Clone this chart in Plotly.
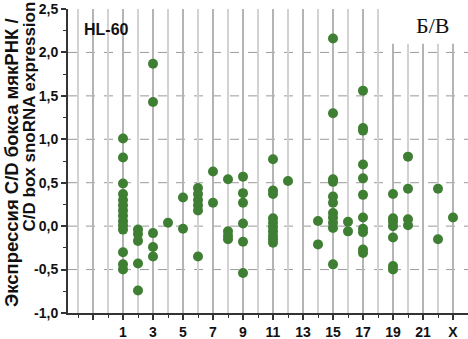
import plotly.graph_objects as go

# ---- data ----
chromosome_labels = [str(i) for i in range(1, 23)] + ["X"]
chr1 = [1.01, 0.79, 0.49, 0.37, 0.30, 0.24, 0.18, 0.12, 0.06, 0.01, -0.04, -0.30, -0.44, -0.50]
chr2 = [-0.04, -0.09, -0.17, -0.43, -0.74]
chr3 = [1.87, 1.43, -0.08, -0.24, -0.35]
chr4 = [0.04]
chr5 = [0.33, -0.03]
chr6 = [0.44, 0.37, 0.30, 0.24, 0.18, -0.35]
chr7 = [0.63, 0.27]
chr8 = [0.54, -0.06, -0.11, -0.15]
chr9 = [0.57, 0.38, 0.27, 0.03, -0.18, -0.54]
chr10 = []
chr11 = [0.77, 0.41, 0.37, 0.09, 0.04, -0.01, -0.06, -0.11, -0.15, -0.19]
chr12 = [0.52]
chr13 = []
chr14 = [0.06, -0.21]
chr15 = [2.16, 1.30, 0.54, 0.51, 0.34, 0.27, 0.15, 0.10, 0.04, -0.02, -0.44]
chr16 = [0.05, -0.06]
chr17 = [1.56, 1.13, 1.10, 0.71, 0.55, 0.36, 0.10, -0.03, -0.07, -0.27, -0.31]
chr18 = []
chr19 = [0.37, 0.09, 0.05, 0.00, -0.13, -0.46, -0.50]
chr20 = [0.80, 0.43, 0.08, 0.01]
chr21 = []
chr22 = [0.43, -0.15]
chrX = [0.10]

series = [chr1, chr2, chr3, chr4, chr5, chr6, chr7, chr8, chr9, chr10, chr11, chr12,
          chr13, chr14, chr15, chr16, chr17, chr18, chr19, chr20, chr21, chr22, chrX]

y_tick_values = [-1.0, -0.5, 0.0, 0.5, 1.0, 1.5, 2.0, 2.5]
y_tick_labels = ["-1,0", "-0,5", "0,0", "0,5", "1,0", "1,5", "2,0", "2,5"]
x_tick_values = [-1] + list(range(1, 24, 2))
x_tick_labels = [""] + [chromosome_labels[i - 1] for i in range(1, 24, 2)]

xs, ys = [], []
for pos, vals in enumerate(series, start=1):
    for v in vals:
        xs.append(pos)
        ys.append(v)

fig = go.Figure()
fig.add_trace(go.Scatter(
    x=xs, y=ys, mode="markers",
    marker=dict(size=10, color="#3f7f33", line=dict(width=0)),
    showlegend=False, hoverinfo="skip", cliponaxis=False))

shapes = []
# vertical grid lines
for gx in range(-2, 24):
    top = 2.1 if gx >= 19 else 2.5
    col = "#b4b4b4" if gx % 2 else "#d2d2d2"
    shapes.append(dict(type="line", xref="x", yref="y", x0=gx, x1=gx, y0=-1.0, y1=top,
                       line=dict(color=col, width=2), layer="below"))
# horizontal dashed grid lines
for gy in [-0.5, 0.0, 0.5, 1.0, 1.5, 2.0]:
    shapes.append(dict(type="line", xref="paper", yref="y", x0=0, x1=1, y0=gy, y1=gy,
                       line=dict(color="#9a9a9a", width=1, dash="dash"), layer="below"))

tick_font = dict(family="Liberation Sans, Arial, sans-serif", size=14, color="#111", weight="bold")
sans = "Liberation Sans, Arial, sans-serif"

fig.update_layout(
    width=468, height=339,
    margin=dict(l=68, r=0, t=9, b=26, autoexpand=False),
    plot_bgcolor="white", paper_bgcolor="white",
    shapes=shapes,
    xaxis=dict(range=[-2.667, 24], showgrid=False, zeroline=False,
               showline=True, linecolor="#333", linewidth=2,
               tickmode="array", tickvals=x_tick_values, ticktext=x_tick_labels,
               ticks="outside", ticklen=5, tickwidth=1.5, tickcolor="#333",
               minor=dict(tickvals=list(range(-2, 24, 2)), ticks="outside", ticklen=3,
                          tickwidth=1, tickcolor="#333", showgrid=False),
               tickfont=tick_font, automargin=False),
    yaxis=dict(range=[-1.0, 2.5], showgrid=False, zeroline=False,
               showline=True, linecolor="#333", linewidth=2,
               tickmode="array", tickvals=y_tick_values, ticktext=y_tick_labels,
               ticks="outside", ticklen=5, tickwidth=1.5, tickcolor="#333",
               minor=dict(dtick=0.25, tick0=0, ticks="outside", ticklen=3,
                          tickwidth=1, tickcolor="#333", showgrid=False),
               tickfont=tick_font, automargin=False),
    annotations=[
        dict(text="Экспрессия C/D бокса мякРНК /", textangle=-90, showarrow=False,
             xref="paper", yref="paper", x=(11 - 68) / 400, y=(313 - 163) / 304,
             xanchor="center", yanchor="middle",
             font=dict(family=sans, size=18.5, color="#111", weight="bold")),
        dict(text="C/D box snoRNA expression", textangle=-90, showarrow=False,
             xref="paper", yref="paper", x=(28.5 - 68) / 400, y=(313 - 117) / 304,
             xanchor="center", yanchor="middle",
             font=dict(family=sans, size=17, color="#111", weight="bold")),
        dict(text="HL-60", showarrow=False, xref="paper", yref="paper",
             x=(82 - 68) / 400, y=(313 - 30) / 304, xanchor="left", yanchor="middle",
             font=dict(family=sans, size=16, color="#111", weight="bold")),
        dict(text="Б/В", showarrow=False, xref="paper", yref="paper",
             x=(432 - 68) / 400, y=(313 - 25) / 304, xanchor="center", yanchor="middle",
             font=dict(family="Liberation Serif, Times New Roman, serif", size=22, color="#111")),
    ],
)

fig.write_html("out.html", config={"displayModeBar": False},
               post_script="document.body.style.margin='0';document.body.style.overflow='hidden';")
